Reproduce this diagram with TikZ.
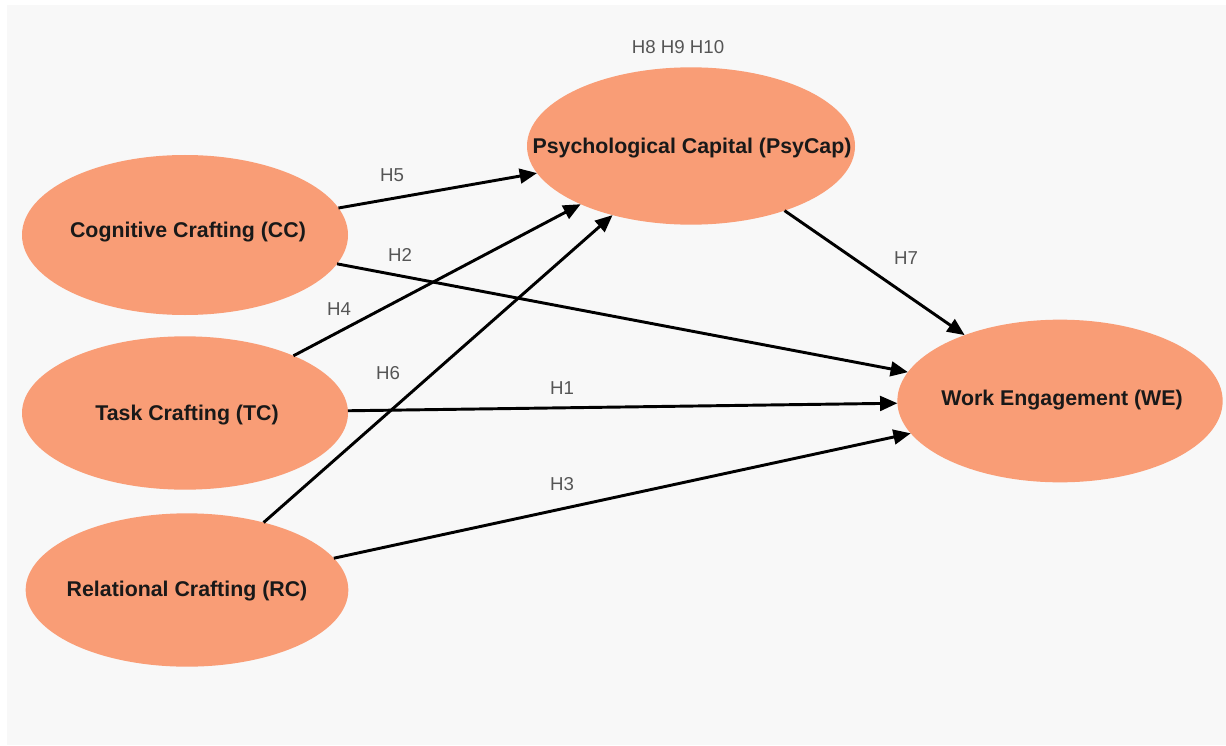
\documentclass[tikz,border=0pt]{standalone}
\usepackage{fontspec}
\setmainfont{Liberation Sans}
\usetikzlibrary{arrows.meta,shapes.geometric}
\definecolor{constructfill}{RGB}{249,157,118}
\definecolor{hypcol}{RGB}{85,85,85}
\definecolor{canvas}{RGB}{248,248,248}
\tikzset{
  construct/.style={ellipse,fill=constructfill,draw=none,inner sep=0pt,outer sep=0pt},
  ctext/.style={font=\fontsize{16}{18}\selectfont\bfseries,text=black!90,inner sep=0pt},
  hyp/.style={font=\fontsize{14}{16}\selectfont,text=hypcol,inner sep=1pt},
  link/.style={-{Triangle[length=13pt,width=11pt]},draw=black,line width=2.2pt},
}
\begin{document}
\begin{tikzpicture}[x=0.75pt,y=-0.75pt]
  \useasboundingbox (0,0) rectangle (1226,745);
  \fill[canvas] (7,5) rectangle (1226,745);
  % constructs
  \node[construct,minimum width=244.5pt,minimum height=120pt] (cc) at (185,235) {};
  \node[construct,minimum width=244.5pt,minimum height=115pt] (tc) at (185,413) {};
  \node[construct,minimum width=242pt,minimum height=115pt] (rc) at (187,590) {};
  \node[construct,minimum width=246pt,minimum height=118pt] (psy) at (691,146) {};
  \node[construct,minimum width=244pt,minimum height=122pt] (we) at (1060,401) {};
  \node[ctext] (ccT) at (188,232) {Cognitive Crafting (CC)};
  \node[ctext] (tcT) at (187,415) {Task Crafting (TC)};
  \node[ctext] (rcT) at (187,591) {Relational Crafting (RC)};
  \node[ctext] (psyT) at (692,148) {Psychological Capital (PsyCap)};
  \node[ctext] (weT) at (1062,400) {Work Engagement (WE)};
  % hypotheses
  \draw[link] (cc) -- (psy);
  \draw[link] (cc) -- (we);
  \draw[link] (tc) -- (psy);
  \draw[link] (rc) -- (psy);
  \draw[link] (tc) -- (we);
  \draw[link] (rc) -- (we);
  \draw[link] (psy) -- (we);
  \node[hyp] (h5) at (392,175) {H5};
  \node[hyp] (h2) at (400,255) {H2};
  \node[hyp] (h4) at (339,309) {H4};
  \node[hyp] (h6) at (388,373) {H6};
  \node[hyp] (h1) at (562,388) {H1};
  \node[hyp] (h3) at (562,484) {H3};
  \node[hyp] (h7) at (906,258) {H7};
  \node[hyp] (h8) at (678,47) {H8 H9 H10};
\end{tikzpicture}
\end{document}
